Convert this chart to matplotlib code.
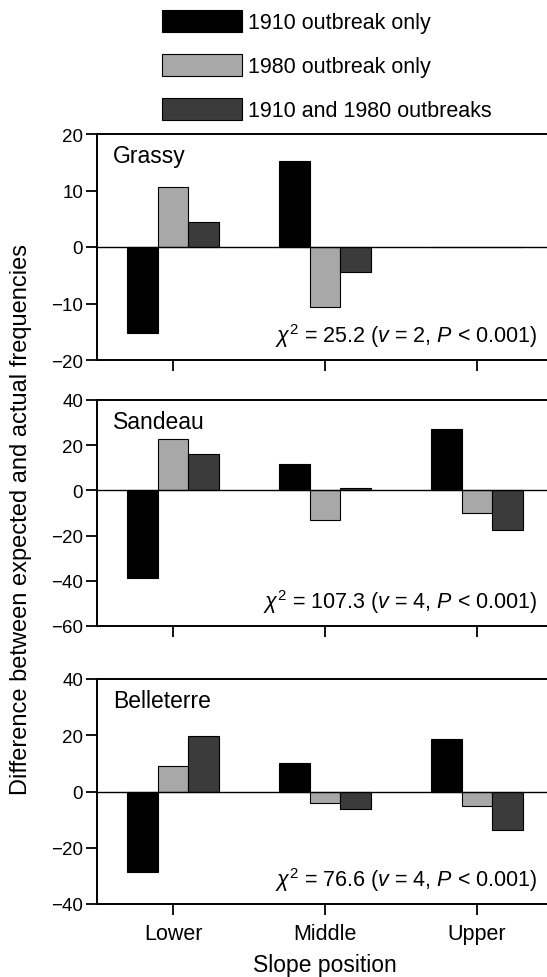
import matplotlib
matplotlib.use("Agg")
import matplotlib.pyplot as plt
from matplotlib.patches import Patch
import numpy as np

plt.rcParams['font.family'] = ['Liberation Sans', 'DejaVu Sans']
plt.rcParams['mathtext.fontset'] = 'custom'
plt.rcParams['mathtext.rm'] = 'Liberation Sans'
plt.rcParams['mathtext.it'] = 'Liberation Sans:italic'

positions = ["Lower", "Middle", "Upper"]
series = ["1910 outbreak only", "1980 outbreak only", "1910 and 1980 outbreaks"]
colors = ["#000000", "#a8a8a8", "#3b3b3b"]

sites = ["Grassy", "Sandeau", "Belleterre"]
grassy = [[-15.2, 15.2, 0.0], [10.6, -10.6, 0.0], [4.5, -4.5, 0.0]]
sandeau = [[-38.8, 11.8, 27.0], [22.6, -13.1, -10.1], [15.9, 1.0, -17.6]]
belleterre = [[-28.7, 10.2, 18.7], [9.0, -4.0, -5.1], [19.6, -6.3, -13.7]]
site_values = [grassy, sandeau, belleterre]

chi_labels = [r"$\chi^2$ = 25.2 ($v$ = 2, $P$ < 0.001)",
              r"$\chi^2$ = 107.3 ($v$ = 4, $P$ < 0.001)",
              r"$\chi^2$ = 76.6 ($v$ = 4, $P$ < 0.001)"]
ylims = [(-20, 20), (-60, 40), (-40, 40)]
yticks = [[-20, -10, 0, 10, 20], [-60, -40, -20, 0, 20, 40], [-40, -20, 0, 20, 40]]

W, H = 547, 978
fig = plt.figure(figsize=(W / 100, H / 100), dpi=100)

# panel boxes in pixels: (top, bottom)
boxes = [(135, 361), (401, 627), (680, 905)]
left_px, right_px = 97, 553

x = np.arange(len(positions))
bw = 0.2
for i, (top, bot) in enumerate(boxes):
    ax = fig.add_axes([left_px / W, 1 - bot / H, (right_px - left_px) / W, (bot - top) / H])
    for j, vals in enumerate(site_values[i]):
        ax.bar(x + (j - 1) * bw, vals, width=bw, color=colors[j],
               edgecolor='black', linewidth=0.8, zorder=3)
    ax.axhline(0, color='black', linewidth=1.0, zorder=4)
    ax.set_xlim(-0.5, 2.5)
    ax.set_ylim(*ylims[i])
    ax.set_yticks(yticks[i])
    ax.set_xticks(x)
    ax.tick_params(direction='out', length=8, width=1.3, labelsize=13.5)
    ax.tick_params(axis='y', pad=2)
    for s in ax.spines.values():
        s.set_linewidth(1.4)
    ax.spines['right'].set_visible(False)
    ax.text(0.035, 0.905, sites[i], transform=ax.transAxes, fontsize=16.5,
            ha='left', va='center')
    ax.text(0.965, 0.11, chi_labels[i], transform=ax.transAxes, fontsize=15.5,
            ha='right', va='center')
    if i < 2:
        ax.set_xticklabels([])
    else:
        ax.set_xticklabels(positions)
        ax.tick_params(axis='x', labelsize=15.5, pad=6)
        ax.set_xlabel("Slope position", fontsize=16.5, labelpad=6)

fig.text(21 / W, 1 - 520 / H, "Difference between expected and actual frequencies",
         rotation=90, ha='center', va='center', fontsize=17)

handles = [Patch(facecolor=c, edgecolor='black', linewidth=0.8) for c in colors]
fig.legend(handles, series, loc='upper left', bbox_to_anchor=(162 / W, 1 - 11 / H),
           frameon=False, fontsize=15.5, handlelength=3.7, handleheight=1.2,
           labelspacing=0.95, handletextpad=0.3, borderaxespad=0, borderpad=0)

fig.savefig("out.png", dpi=100)
